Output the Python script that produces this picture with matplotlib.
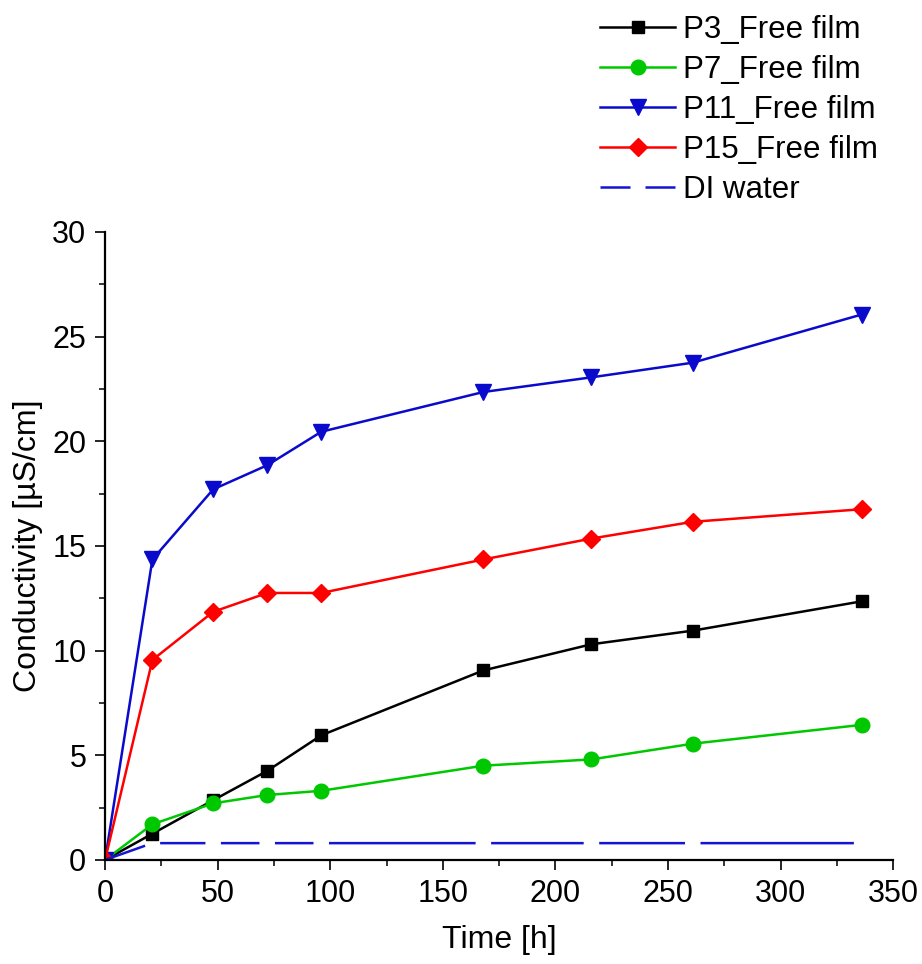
import matplotlib
matplotlib.use("Agg")
import matplotlib.pyplot as plt
import numpy as np
from matplotlib.lines import Line2D
from matplotlib.ticker import MultipleLocator

plt.rcParams['font.family'] = ['Liberation Sans', 'DejaVu Sans']

# sampling times [h]
time_h = [0, 21, 48, 72, 96, 168, 216, 261, 336]

# conductivity [uS/cm]
p3 = [0, 1.25, 2.85, 4.25, 5.95, 9.05, 10.3, 10.95, 12.35]
p7 = [0, 1.7, 2.7, 3.1, 3.3, 4.5, 4.8, 5.55, 6.45]
p11 = [0, 14.35, 17.7, 18.85, 20.45, 22.35, 23.05, 23.75, 26.05]
p15 = [0, 9.55, 11.85, 12.75, 12.75, 14.35, 15.35, 16.15, 16.75]
di_water = [0, 0.8, 0.8, 0.8, 0.8, 0.8, 0.8, 0.8, 0.8]

labels = ["P3_Free film", "P7_Free film", "P11_Free film", "P15_Free film", "DI water"]

c_black = 'black'
c_green = '#00c800'
c_blue = '#0a0acc'
c_red = '#ff0000'
c_di = '#1414d2'
lw = 1.8

fig = plt.figure(figsize=(9.22, 9.64), dpi=100)
ax = fig.add_axes([0.114, 0.108, 0.8547, 0.6515])

ax.set_xlim(0, 350)
ax.set_ylim(0, 30)

ax.plot(time_h, p3, color=c_black, lw=lw, marker='s', ms=9)
ax.plot(time_h, p7, color=c_green, lw=lw, marker='o', ms=10.5)
ax.plot(time_h, p11, color=c_blue, lw=lw, marker='v', ms=12)
ax.plot(time_h, p15, color=c_red, lw=lw, marker='D', ms=9.5)

# DI water: each segment drawn short of its end points (gap to hidden symbols)
gap_px = 9
pts = ax.transData.transform(np.column_stack([time_h, di_water]))
seg_x, seg_y = [], []
for i in range(len(pts) - 1):
    a, b = pts[i], pts[i + 1]
    u = (b - a) / np.hypot(*(b - a))
    a2 = a + u * (gap_px if i > 0 else 0)
    b2 = b - u * gap_px
    (x0, y0), (x1, y1) = ax.transData.inverted().transform([a2, b2])
    seg_x += [x0, x1, np.nan]
    seg_y += [y0, y1, np.nan]
ax.plot(seg_x, seg_y, color=c_di, lw=lw)

ax.xaxis.set_major_locator(MultipleLocator(50))
ax.xaxis.set_minor_locator(MultipleLocator(25))
ax.yaxis.set_major_locator(MultipleLocator(5))
ax.yaxis.set_minor_locator(MultipleLocator(2.5))

for s in ['top', 'right']:
    ax.spines[s].set_visible(False)
for s in ['left', 'bottom']:
    ax.spines[s].set_linewidth(1.6)

ax.tick_params(which='major', direction='out', length=7.5, width=1.2, labelsize=22, pad=6)
ax.tick_params(which='minor', direction='out', length=4, width=1.1)

ax.set_xlabel("Time [h]", fontsize=23)
ax.set_ylabel("Conductivity [µS/cm]", fontsize=23)
ax.xaxis.set_label_coords(0.5, -0.104)
ax.yaxis.set_label_coords(-0.079, 0.5)

handles = [
    Line2D([], [], color=c_black, lw=lw, marker='s', ms=9),
    Line2D([], [], color=c_green, lw=lw, marker='o', ms=10.5),
    Line2D([], [], color=c_blue, lw=lw, marker='v', ms=12),
    Line2D([], [], color=c_red, lw=lw, marker='D', ms=9.5),
    Line2D([], [], color=c_di, lw=lw, dashes=(12, 6)),
]
fig.legend(handles, labels, loc='upper left', bbox_to_anchor=(0.6508, 0.984),
           frameon=False, fontsize=22.5, handlelength=2.4, handletextpad=0.26,
           labelspacing=0.32, borderpad=0, borderaxespad=0)

fig.savefig("out.png", dpi=100)
